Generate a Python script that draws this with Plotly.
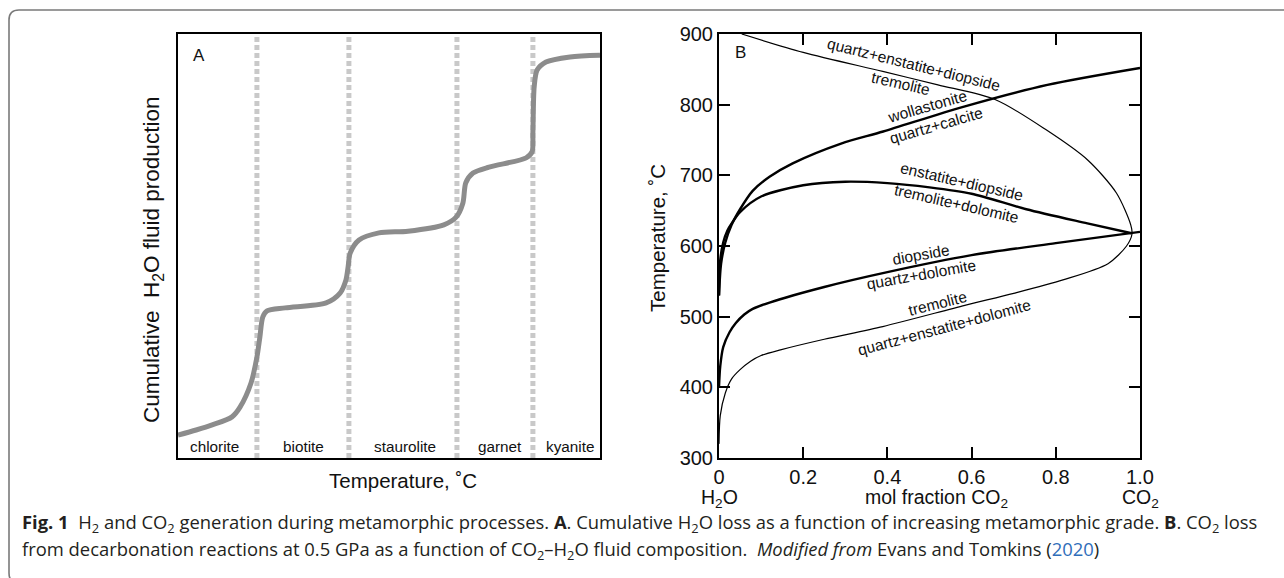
import plotly.graph_objects as go

W, H = 1284, 578

# ---------------- Panel A data ----------------
a_temp = [0, 4.3, 8.1, 12.8, 14.7, 17.3, 18.7, 19.4, 20.1, 21.1, 25.4, 35.1, 38.4, 39.8,
          40.3, 40.8, 42.9, 47.6, 54.5, 63.0, 65.9, 67.5, 68.2, 69.9, 73.7, 82.5, 83.9,
          84.1, 84.4, 85.1, 87.2, 92.9, 100]
a_fluid = [5.4, 6.6, 7.8, 9.7, 12.0, 17.7, 23.8, 28.5, 33.3, 34.7, 35.4, 36.6, 38.9, 42.0,
           45.0, 48.3, 51.4, 53.1, 53.5, 55.0, 56.8, 60.1, 64.9, 67.2, 68.6, 70.8, 72.2,
           76.7, 87.5, 91.5, 93.4, 94.6, 95.0]
isograds = [18.7, 40.5, 66.1, 84.1]
zone_names = ["chlorite", "biotite", "staurolite", "garnet", "kyanite"]
zone_x = [8.6, 29.7, 53.8, 76.3, 92.9]

# ---------------- Panel B data ----------------
wol_x = [0, 0.005, 0.015, 0.03, 0.05, 0.08, 0.12, 0.175, 0.29, 0.39, 0.58, 0.78, 1.0]
wol_t = [530, 575, 605, 630, 652, 678, 698, 717, 745, 762, 797, 828, 852]

ens_x = [0, 0.003, 0.01, 0.02, 0.03, 0.05, 0.1, 0.2, 0.3, 0.4, 0.5, 0.6, 0.73, 0.875, 0.98]
ens_t = [530, 580, 605, 622, 632, 648, 670, 686, 691, 689, 683, 674, 652, 632, 618]

dio_x = [0, 0.003, 0.01, 0.025, 0.04, 0.06, 0.08, 0.12, 0.25, 0.4, 0.6, 0.8, 1.0]
dio_t = [400, 430, 457, 478, 491, 503, 511, 520, 542, 563, 587, 604, 620]

tre_x = [0, 0.003, 0.015, 0.03, 0.05, 0.075, 0.1, 0.146, 0.25, 0.389, 0.584, 0.7, 0.817,
         0.924, 0.968, 0.981, 0.978, 0.944, 0.875, 0.778, 0.657, 0.52, 0.389, 0.2, 0.054]
tre_t = [320, 360, 392, 412, 425, 437, 445, 453, 468, 486, 516, 533, 552,
         575, 600, 617, 630, 675, 722, 764, 807, 828, 847, 874, 900]

b_labels = ["quartz+enstatite+diopside", "tremolite", "wollastonite", "quartz+calcite",
            "enstatite+diopside", "tremolite+dolomite", "diopside", "quartz+dolomite",
            "tremolite", "quartz+enstatite+dolomite"]
b_label_x = [0.463, 0.432, 0.493, 0.515, 0.577, 0.563, 0.480, 0.480, 0.518, 0.534]
b_label_t = [857, 830, 798, 771, 691, 660, 588, 559, 518, 485]
b_label_ang = [14, 13, -16, -16, 13, 13, -10, -10, -14, -15]

xb_ticks = [0, 0.2, 0.4, 0.6, 0.8, 1.0]
xb_ticktext = ["0", "0.2", "0.4", "0.6", "0.8", "1.0"]
yb_ticks = [300, 400, 500, 600, 700, 800, 900]

# ---------------- layout geometry (pixels) ----------------
def px_x(p):
    return p / W

def px_y(p):
    return 1 - p / H

A_L, A_R, TOP, BOT = 178, 600, 34, 458
B_L, B_R = 719, 1140

fig = go.Figure()

# Panel A
for xi in isograds:
    fig.add_trace(go.Scatter(x=[xi, xi], y=[0, 100], mode="lines",
                             line=dict(color="#c9c9c9", width=5, dash="5px,3px"),
                             xaxis="x", yaxis="y", hoverinfo="skip", showlegend=False))
fig.add_trace(go.Scatter(x=a_temp, y=a_fluid, mode="lines",
                         line=dict(color="#8c8c8c", width=5, shape="spline", smoothing=0.8),
                         xaxis="x", yaxis="y", showlegend=False))

# Panel B
fig.add_trace(go.Scatter(x=tre_x, y=tre_t, mode="lines",
                         line=dict(color="black", width=1.2, shape="spline", smoothing=0.8),
                         xaxis="x2", yaxis="y2", showlegend=False))
for xs, ts in [(wol_x, wol_t), (ens_x, ens_t), (dio_x, dio_t)]:
    fig.add_trace(go.Scatter(x=xs, y=ts, mode="lines",
                             line=dict(color="black", width=2.4, shape="spline", smoothing=0.8),
                             xaxis="x2", yaxis="y2", showlegend=False))


def note(x, y, text, size, xref="paper", yref="paper", family="Arial", angle=0,
         xanchor="center", yanchor="middle", color="#111"):
    return dict(x=x, y=y, xref=xref, yref=yref, text=text, showarrow=False,
                textangle=angle, xanchor=xanchor, yanchor=yanchor,
                font=dict(family=family, size=size, color=color))


ann = []
for name, zx in zip(zone_names, zone_x):
    ann.append(note(zx, px_y(446), name, 15.3, xref="x"))
ann.append(note(px_x(191), px_y(55), "A", 17, xanchor="left"))
ann.append(note(px_x(733), px_y(53), "B", 17, xanchor="left"))
ann.append(note(px_x(153), px_y(260), "Cumulative  H<sub>2</sub>O fluid production", 22.5,
                angle=-90))
ann.append(note(px_x(403), px_y(480), "Temperature, ˚C", 20.5))
ann.append(note(px_x(657), px_y(238), "Temperature, ˚C", 20.5, angle=-90))
ann.append(note(px_x(936), px_y(498), "mol fraction CO<sub>2</sub>", 19.5))
ann.append(note(0, px_y(498), "H<sub>2</sub>O", 19.5, xref="x2"))
ann.append(note(1.0, px_y(498), "CO<sub>2</sub>", 19.5, xref="x2"))
for t, x, y, a in zip(b_labels, b_label_x, b_label_t, b_label_ang):
    ann.append(note(x, y, t, 15.5, xref="x2", yref="y2", angle=a))

line1 = ("<b>Fig. 1</b>\u00a0\u00a0H<sub>2</sub> and CO<sub>2</sub> generation during metamorphic "
         "processes. <b>A</b>. Cumulative H<sub>2</sub>O loss as a function of increasing "
         "metamorphic grade. <b>B</b>. CO<sub>2</sub> loss")
line2 = ("from decarbonation reactions at 0.5 GPa as a function of CO<sub>2</sub>–H<sub>2</sub>O "
         "fluid composition.\u00a0\u00a0<i>Modified from</i> Evans and Tomkins "
         "(<span style='color:#2f6eba'>2020</span>)")
ann.append(note(px_x(20), px_y(523), line1, 18.4, family="Open Sans", xanchor="left",
                color="#231f20"))
ann.append(note(px_x(20), px_y(550), line2, 18.4, family="Open Sans", xanchor="left",
                color="#231f20"))

# outer rounded frame
L, T, R, Bt, r = 9, 10, 1300, 583, 10
def P(x, y):
    return f"{x / W:.5f},{1 - y / H:.5f}"
frame = (f"M {P(R, T)} L {P(L + r, T)} Q {P(L, T)} {P(L, T + r)} "
         f"L {P(L, Bt - r)} Q {P(L, Bt)} {P(L + r, Bt)} L {P(R, Bt)}")

axis_common = dict(showgrid=False, zeroline=False, showline=True, mirror=True,
                   linecolor="black", linewidth=2, automargin=False)

fig.update_layout(
    width=W, height=H, margin=dict(l=0, r=0, t=0, b=0),
    paper_bgcolor="white", plot_bgcolor="white", showlegend=False,
    template="none",
    xaxis=dict(domain=[px_x(A_L), px_x(A_R)], range=[0, 100], showticklabels=False,
               ticks="", **axis_common),
    yaxis=dict(domain=[px_y(BOT), px_y(TOP)], range=[0, 100], showticklabels=False,
               ticks="", **axis_common),
    xaxis2=dict(domain=[px_x(B_L), px_x(B_R)], range=[0, 1], anchor="y2",
                tickvals=xb_ticks, ticktext=xb_ticktext, ticks="inside", ticklen=11,
                tickwidth=2, tickcolor="black",
                tickfont=dict(family="Arial", size=20, color="#111"),
                **{**axis_common, "mirror": "ticks"}),
    yaxis2=dict(domain=[px_y(BOT), px_y(TOP)], range=[300, 900], anchor="x2",
                tickvals=yb_ticks, ticks="inside", ticklen=11, tickwidth=2,
                tickcolor="black",
                tickfont=dict(family="Arial", size=20, color="#111"),
                **{**axis_common, "mirror": "ticks"}),
    annotations=ann,
    shapes=[dict(type="path", path=frame, xref="paper", yref="paper",
                 line=dict(color="#7a7a7a", width=1.6))],
)

fig.write_html("out.html")
